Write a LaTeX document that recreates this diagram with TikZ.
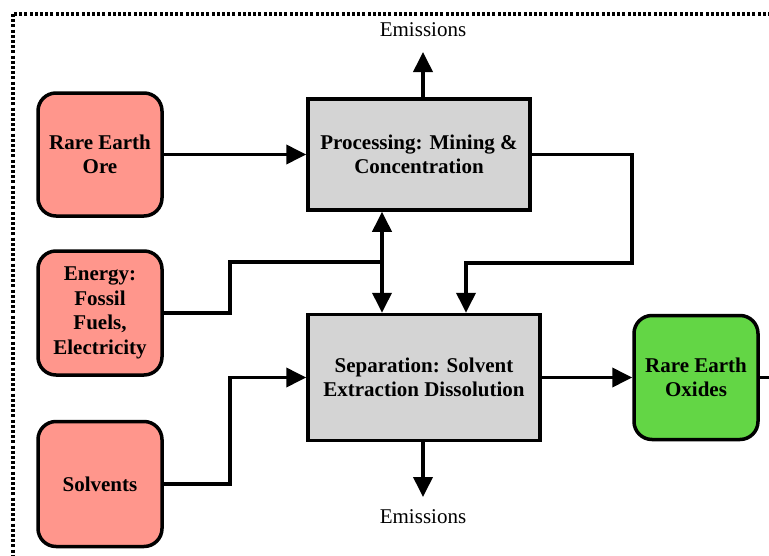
\documentclass[tikz,border=0pt]{standalone}
\usepackage{fontspec}
\setmainfont{Liberation Serif}
\usepackage{tikz}
\usetikzlibrary{arrows.meta, positioning, calc}
\definecolor{inpink}{RGB}{255,150,140}
\definecolor{outgreen}{RGB}{99,214,69}
\definecolor{procgray}{RGB}{212,212,212}

\begin{document}
\begin{tikzpicture}[x=1pt, y=-1pt,
  inbox/.style={draw, line width=3.5pt, rounded corners=18pt, fill=inpink, minimum width=124pt, minimum height=123pt, font=\fontsize{21}{24.5}\selectfont\bfseries, align=center},
  outbox/.style={inbox, fill=outgreen},
  procbox/.style={draw, line width=3.5pt, fill=procgray, font=\fontsize{21}{24}\selectfont\bfseries, align=center},
  arr/.style={-{Triangle[length=20pt, width=19pt]}, line width=3.8pt},
  dblarr/.style={{Triangle[length=20pt, width=19pt]}-{Triangle[length=20pt, width=19pt]}, line width=3.8pt},
  flow/.style={line width=3.8pt},
  note/.style={font=\fontsize{21}{24}\selectfont},
  border/.style={line width=3.2pt, dash pattern=on 3pt off 2.2pt}
]
\useasboundingbox (0,0) rectangle (769,555);
\clip (0,0) rectangle (769,555);

% System boundary
\draw[border] (13,14) rectangle (820,600);

% Inputs column
\node[inbox] (ore)    at (100,154.5) {Rare Earth\\Ore};
\node[inbox, minimum height=124pt] (energy) at (100,313) {Energy:\\Fossil\\Fuels,\\Electricity};
\node[inbox, minimum height=125pt] (solv)   at (100,484) {Solvents};

% Process steps
\node[procbox, minimum width=222pt, minimum height=111pt] (proc) at (419,154.5) {Processing: Mining \&\\Concentration};
\node[procbox, minimum width=232pt, minimum height=126pt] (sep)  at (424,377.5) {Separation: Solvent\\Extraction Dissolution};

% Product
\node[outbox, minimum height=124pt] (oxide) at (696,377.5) {Rare Earth\\Oxides};

% Free ends
\coordinate (emup) at (423,52);
\coordinate (emdn) at (423,497);
\coordinate (jn)   at (382,262);
\coordinate (outr) at (790,377.5);

% Emission labels
\node[note] (emtop) at (423,30)  {Emissions};
\node[note] (embot) at (423,517) {Emissions};

% Inputs to processes
\draw[arr] (ore.east) -- (proc.west);
\draw[flow] (energy.east) -- ++(66,0) |- (jn);
\draw[dblarr] (jn |- proc.south) -- (jn |- sep.north);
\draw[arr] (solv.east) -- ++(66,0) |- (sep.west);

% Processing to separation
\draw[arr] (proc.east) -| (632,263) -| ([xshift=42pt]sep.north);

% Emissions
\draw[arr] (proc.north -| emup) -- (emup);
\draw[arr] (sep.south -| emdn) -- (emdn);

% Output
\draw[arr] (sep.east) -- (oxide.west);
\draw[flow] (oxide.east) -- (outr);

\end{tikzpicture}
\end{document}
